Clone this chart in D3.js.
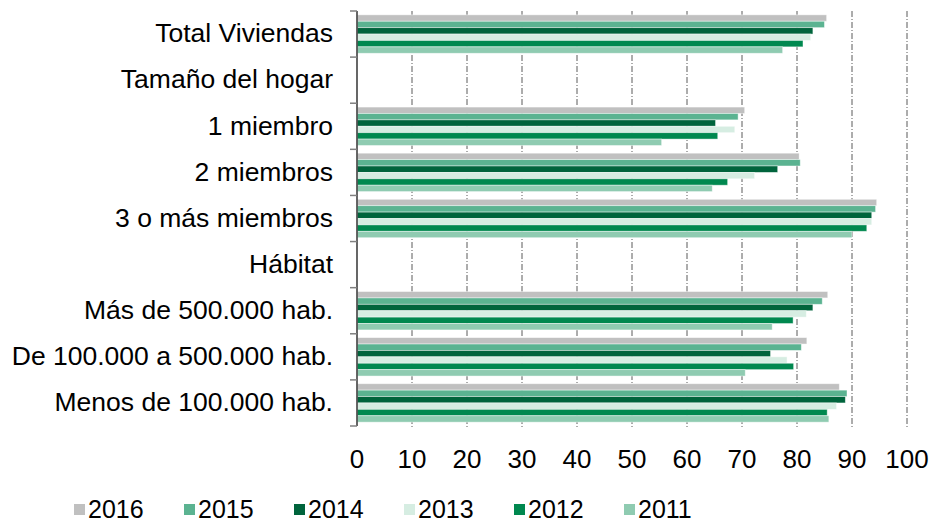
<!DOCTYPE html>
<html lang="es">
<head>
<meta charset="utf-8">
<script src="https://d3js.org/d3.v7.min.js"></script>
<style>
  body { margin: 0; background: #fff; }
  text { font-family: "Liberation Sans", Arial, sans-serif; fill: #000; }
</style>
</head>
<body>
<svg width="932" height="524"></svg>
<script>

// categories (top to bottom); the two headings have no bars
var categories = ["Total Viviendas", "Tamaño del hogar", "1 miembro ", "2 miembros",
                  "3 o más miembros", "Hábitat", "Más de 500.000 hab.",
                  "De 100.000 a 500.000 hab.", "Menos de 100.000 hab."];

var years = ["2016", "2015", "2014", "2013", "2012", "2011"];
var colors = ["#c0c0c0", "#5bb391", "#00643c", "#d6ede2", "#00884f", "#8fcbb1"];

// values per year, same order as categories (null = heading row)
var v2016 = [85.3, null, 70.4, 80.3, 94.4, null, 85.5, 81.7, 87.6];
var v2015 = [84.9, null, 69.2, 80.5, 94.2, null, 84.5, 80.7, 89.0];
var v2014 = [82.8, null, 65.1, 76.4, 93.5, null, 82.8, 75.1, 88.7];
var v2013 = [82.4, null, 68.6, 72.2, 93.5, null, 81.6, 78.1, 87.1];
var v2012 = [81.0, null, 65.5, 67.3, 92.6, null, 79.2, 79.3, 85.4];
var v2011 = [77.3, null, 55.3, 64.5, 89.9, null, 75.4, 70.5, 85.7];
var series = [v2016, v2015, v2014, v2013, v2012, v2011];

var xTicks = [0, 10, 20, 30, 40, 50, 60, 70, 80, 90, 100];

var svg = d3.select("svg"),
    plotLeft = 357, plotRight = 907, plotTop = 11, plotBottom = 426;

var x = d3.scaleLinear().domain([0, 100]).range([plotLeft, plotRight]);
var y = d3.scaleBand().domain(categories).range([plotTop, plotBottom]);
var inner = d3.scaleBand().domain(years)
    .range([0, y.bandwidth()]).paddingOuter(0.6).paddingInner(0);

// gridlines (dash-dot)
svg.append("g").selectAll("line")
    .data(xTicks.slice(1))
  .enter().append("line")
    .attr("x1", function(d) { return x(d); })
    .attr("x2", function(d) { return x(d); })
    .attr("y1", plotTop)
    .attr("y2", plotBottom + 2)
    .attr("stroke", "#5a5a5a")
    .attr("stroke-width", 1)
    .attr("stroke-dasharray", "6,2,1,2");

// bars
var rows = [];
categories.forEach(function(c, i) {
  years.forEach(function(yr, j) {
    if (series[j][i] != null) rows.push({cat: c, year: yr, value: series[j][i], k: j});
  });
});

svg.append("g").selectAll("rect")
    .data(rows)
  .enter().append("rect")
    .attr("x", x(0) + 0.5)
    .attr("y", function(d) { return y(d.cat) + inner(d.year); })
    .attr("width", function(d) { return x(d.value) - x(0); })
    .attr("height", inner.bandwidth())
    .attr("fill", function(d) { return colors[d.k]; })
    .attr("stroke", "rgba(255,255,255,0.55)")
    .attr("stroke-width", 0.8);

// y axis line and category ticks
svg.append("line")
    .attr("x1", plotLeft).attr("x2", plotLeft)
    .attr("y1", plotTop).attr("y2", plotBottom)
    .attr("stroke", "#000").attr("stroke-width", 1.2);

var bounds = categories.map(function(c) { return y(c); }).concat([plotBottom]);
svg.append("g").selectAll("line")
    .data(bounds)
  .enter().append("line")
    .attr("x1", plotLeft - 7).attr("x2", plotLeft)
    .attr("y1", function(d) { return d; })
    .attr("y2", function(d) { return d; })
    .attr("stroke", "#808080").attr("stroke-width", 1.5);

// category labels
svg.append("g").selectAll("text")
    .data(categories)
  .enter().append("text")
    .attr("x", 333)
    .attr("y", function(d) { return y(d) + y.bandwidth() / 2 - 1; })
    .attr("dy", "0.35em")
    .attr("text-anchor", "end")
    .style("font-size", "26.5px")
    .text(function(d) { return d; });

// x tick labels
svg.append("g").selectAll("text")
    .data(xTicks)
  .enter().append("text")
    .attr("x", function(d) { return x(d); })
    .attr("y", 459)
    .attr("dy", "0.35em")
    .attr("text-anchor", "middle")
    .style("font-size", "26px")
    .text(function(d) { return d; });

// legend
var legend = svg.append("g").selectAll("g")
    .data(years)
  .enter().append("g")
    .attr("transform", function(d, i) { return "translate(" + (74 + i * 110) + ",518)"; });

legend.append("rect")
    .attr("x", 0).attr("y", -14)
    .attr("width", 11).attr("height", 11)
    .attr("fill", function(d, i) { return colors[i]; });

legend.append("text")
    .attr("x", 14)
    .style("font-size", "25px")
    .text(function(d) { return d; });

</script>
</body>
</html>
